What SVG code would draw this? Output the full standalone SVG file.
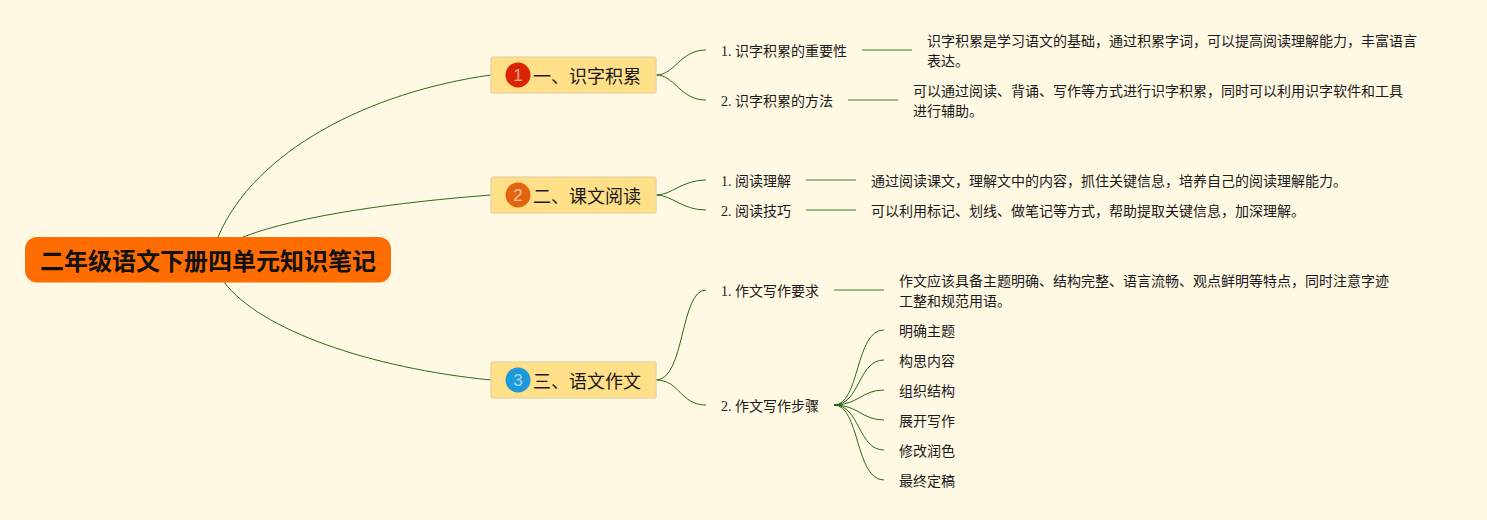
<svg xmlns="http://www.w3.org/2000/svg" width="1487" height="520" viewBox="0 0 1487 520">
<style>
text{font-family:"Liberation Serif","Noto Sans CJK SC",serif;fill:#1a1a1a}
.c{fill:none;stroke:#2a6a1c;stroke-width:1}
.s{fill:none;stroke:#7fa56a;stroke-width:1.5}
.b{fill:#ffdf88;stroke:#e8d8a8;stroke-width:1.5}
.t1{font-size:18px;font-family:"Noto Sans CJK SC",sans-serif}
.t2{font-size:14px}
.ic{font-size:17px;font-family:"Liberation Sans",sans-serif;fill:#fff;fill-opacity:.6;text-anchor:middle}
</style>
<rect width="1487" height="520" fill="#fff8e2"/>
<g id="connectors">
<path class="c" d="M218 237C255 150 370 92 491 75"/>
<path class="c" d="M243 237C300 215 400 202 491 195"/>
<path class="c" d="M224 282C260 330 370 368 491 380"/>
<path class="c" d="M656 75C675 75 680 50 706 50"/>
<path class="c" d="M656 75C675 75 680 100 706 100"/>
<path class="c" d="M656 195C672 195 682 180 706 180"/>
<path class="c" d="M656 195C672 195 682 210 706 210"/>
<path class="c" d="M656 380C685 380 680 290 706 290"/>
<path class="c" d="M656 380C680 380 680 405 706 405"/>
<path class="s" d="M862 50H912M848 100H898M806 180H856M806 210H856M834 290H884"/>
<path class="c" d="M834 405C860 405 855 330 884 330"/>
<path class="c" d="M834 405C860 405 858 360 884 360"/>
<path class="c" d="M834 405C858 405 862 390 884 390"/>
<path class="c" d="M834 405C858 405 862 420 884 420"/>
<path class="c" d="M834 405C860 405 858 450 884 450"/>
<path class="c" d="M834 405C860 405 855 480 884 480"/>
<path d="M834 404.200H842V405.800H834Z" fill="#2a6a1c"/>
</g>
<g id="root"><rect x="25" y="237" width="366" height="45.500" rx="12" fill="#ff6d00"/><text x="208" y="270" text-anchor="middle" style="font-size:24px;font-weight:700;font-family:'Noto Sans CJK SC',sans-serif;fill:#111">二年级语文下册四单元知识笔记</text></g>
<g id="t1"><rect class="b" x="491" y="57" width="165" height="36" rx="2"/><circle cx="518" cy="75" r="12.500" fill="#d92405"/><text class="ic" x="518" y="81">1</text><text class="t1" x="533" y="83">一、识字积累</text></g>
<g id="t2"><rect class="b" x="491" y="177" width="165" height="36" rx="2"/><circle cx="518" cy="195" r="12.500" fill="#e3640f"/><text class="ic" x="518" y="201">2</text><text class="t1" x="533" y="203">二、课文阅读</text></g>
<g id="t3"><rect class="b" x="491" y="362" width="165" height="36" rx="2"/><circle cx="518" cy="380" r="12.500" fill="#1d9ad9"/><text class="ic" x="518" y="386">3</text><text class="t1" x="533" y="388">三、语文作文</text></g>
<g id="n11"><text class="t2" x="721" y="56">1. 识字积累的重要性</text></g>
<g id="n12"><text class="t2" x="721" y="106">2. 识字积累的方法</text></g>
<g id="n21"><text class="t2" x="721" y="186">1. 阅读理解</text></g>
<g id="n22"><text class="t2" x="721" y="216">2. 阅读技巧</text></g>
<g id="n31"><text class="t2" x="721" y="296">1. 作文写作要求</text></g>
<g id="n32"><text class="t2" x="721" y="411">2. 作文写作步骤</text></g>
<g id="d11"><text class="t2" x="927" y="46">识字积累是学习语文的基础，通过积累字词，可以提高阅读理解能力，丰富语言</text><text class="t2" x="927" y="66">表达。</text></g>
<g id="d12"><text class="t2" x="913" y="96">可以通过阅读、背诵、写作等方式进行识字积累，同时可以利用识字软件和工具</text><text class="t2" x="913" y="116">进行辅助。</text></g>
<g id="d21"><text class="t2" x="871" y="186">通过阅读课文，理解文中的内容，抓住关键信息，培养自己的阅读理解能力。</text></g>
<g id="d22"><text class="t2" x="871" y="216">可以利用标记、划线、做笔记等方式，帮助提取关键信息，加深理解。</text></g>
<g id="d31"><text class="t2" x="899" y="286">作文应该具备主题明确、结构完整、语言流畅、观点鲜明等特点，同时注意字迹</text><text class="t2" x="899" y="306">工整和规范用语。</text></g>
<g id="s1"><text class="t2" x="899" y="336">明确主题</text></g>
<g id="s2"><text class="t2" x="899" y="366">构思内容</text></g>
<g id="s3"><text class="t2" x="899" y="396">组织结构</text></g>
<g id="s4"><text class="t2" x="899" y="426">展开写作</text></g>
<g id="s5"><text class="t2" x="899" y="456">修改润色</text></g>
<g id="s6"><text class="t2" x="899" y="486">最终定稿</text></g>
</svg>
